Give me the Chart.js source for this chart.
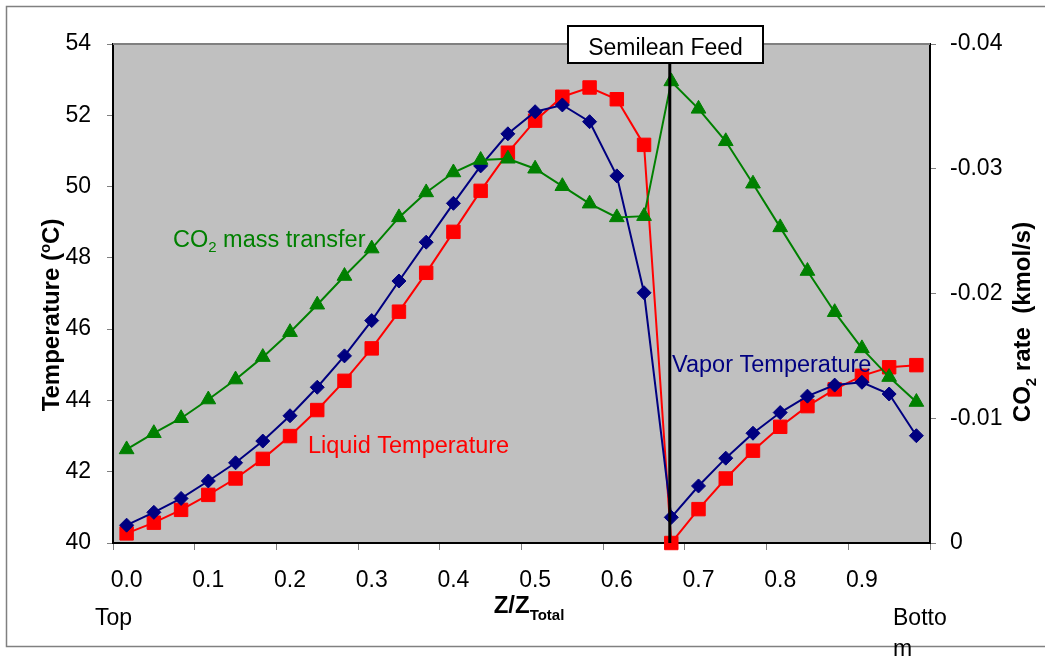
<!DOCTYPE html>
<html>
<head>
<meta charset="utf-8">
<script src="https://cdn.jsdelivr.net/npm/chart.js@4.4.1/dist/chart.umd.min.js"></script>
<style>
  html, body { margin: 0; padding: 0; background: #fff; }
  #wrap { width: 1045px; height: 658px; }
</style>
</head>
<body>
<div id="wrap"><canvas id="chartProfile" width="1045" height="658"></canvas></div>
<script>
// column stages (category axis), one label shown every 3 stages
const stages = [1, 2, 3, 4, 5, 6, 7, 8, 9, 10, 11, 12, 13, 14, 15,
                16, 17, 18, 19, 20, 21, 22, 23, 24, 25, 26, 27, 28, 29, 30];
const zTickLabels = ['0.0', '0.1', '0.2', '0.3', '0.4', '0.5', '0.6', '0.7', '0.8', '0.9'];

// temperatures (oC)
const liquidTemp = [40.27, 40.57, 40.93, 41.35, 41.81, 42.36, 43.00, 43.73, 44.55, 45.46,
                    46.49, 47.58, 48.73, 49.88, 50.95, 51.85, 52.52, 52.78, 52.45, 51.17,
                    40.00, 40.95, 41.81, 42.59, 43.26, 43.84, 44.31, 44.69, 44.93, 44.99];
const vaporTemp = [40.50, 40.86, 41.25, 41.74, 42.25, 42.86, 43.57, 44.37, 45.25, 46.24,
                   47.35, 48.44, 49.53, 50.58, 51.48, 52.10, 52.29, 51.82, 50.30, 47.02,
                   40.72, 41.60, 42.38, 43.08, 43.66, 44.12, 44.43, 44.51, 44.18, 43.01];
// CO2 rate (kmol/s), right axis
const co2Rate = [-0.0075, -0.0088, -0.0100, -0.0115, -0.0131, -0.0149, -0.0169, -0.0191, -0.0214, -0.0236,
                 -0.0261, -0.0281, -0.0297, -0.0307, -0.0308, -0.0300, -0.0286, -0.0272, -0.0261, -0.0262,
                 -0.0370, -0.0348, -0.0322, -0.0288, -0.0253, -0.0218, -0.0185, -0.0156, -0.0133, -0.0113];

const feedStage = 21;

const FONT = "'Liberation Sans', Arial, sans-serif";
const chartProfile = document.getElementById("chartProfile");

// draw a line of text made of runs (for sub/superscripts)
function drawRuns(ctx, runs, x, y, align) {
    let total = 0;
    runs.forEach(r => {
        ctx.font = (r.bold ? 'bold ' : '') + r.size + 'px ' + FONT;
        r.w = ctx.measureText(r.text).width;
        total += r.w;
    });
    let cx = align === 'center' ? x - total / 2 : x;
    ctx.textAlign = 'left';
    ctx.textBaseline = 'alphabetic';
    runs.forEach(r => {
        ctx.font = (r.bold ? 'bold ' : '') + r.size + 'px ' + FONT;
        ctx.fillText(r.text, cx, y + (r.dy || 0));
        cx += r.w;
    });
}

const decor = {
    id: 'decor',
    beforeDraw(chart) {
        const ctx = chart.ctx;
        const a = chart.chartArea;
        ctx.save();
        ctx.strokeStyle = '#808080';
        ctx.lineWidth = 1.5;
        ctx.strokeRect(6.5, 6.5, 1100, 640);
        ctx.fillStyle = '#C0C0C0';
        ctx.fillRect(a.left, a.top, a.right - a.left, a.bottom - a.top);
        ctx.restore();
    },
    beforeDatasetsDraw(chart) {
        const ctx = chart.ctx;
        const a = chart.chartArea;
        ctx.save();
        ctx.strokeStyle = '#808080';
        ctx.lineWidth = 2;
        ctx.beginPath();
        ctx.moveTo(a.left, a.top);
        ctx.lineTo(a.right, a.top);
        ctx.stroke();
        ctx.restore();
    },
    afterDatasetsDraw(chart) {
        const ctx = chart.ctx;
        const a = chart.chartArea;
        const xs = chart.scales.x;
        const fx = xs.getPixelForValue(stages.indexOf(feedStage)) - 1.5;
        ctx.save();
        // semilean feed line + box
        ctx.strokeStyle = '#000';
        ctx.lineWidth = 3;
        ctx.beginPath();
        ctx.moveTo(fx, 62);
        ctx.lineTo(fx, a.bottom);
        ctx.stroke();
        ctx.fillStyle = '#fff';
        ctx.fillRect(568, 26, 195, 37);
        ctx.lineWidth = 2;
        ctx.strokeRect(568, 26, 195, 37);
        ctx.fillStyle = '#000';
        drawRuns(ctx, [{ text: 'Semilean Feed', size: 23 }], 665.5, 55, 'center');

        // series labels
        ctx.fillStyle = '#008000';
        drawRuns(ctx, [{ text: 'CO', size: 23.5 }, { text: '2', size: 15, dy: 5 },
                       { text: ' mass transfer', size: 23.5 }], 173, 247, 'left');
        ctx.fillStyle = '#FF0000';
        drawRuns(ctx, [{ text: 'Liquid Temperature', size: 23.5 }], 308, 453, 'left');
        ctx.fillStyle = '#000080';
        drawRuns(ctx, [{ text: 'Vapor Temperature', size: 23.5 }], 672, 372, 'left');

        // axis titles and end labels
        ctx.fillStyle = '#000';
        drawRuns(ctx, [{ text: 'Z/Z', size: 24, bold: true },
                       { text: 'Total', size: 15, bold: true, dy: 7 }], 529, 613, 'center');
        drawRuns(ctx, [{ text: 'Top', size: 23 }], 95, 625, 'left');
        drawRuns(ctx, [{ text: 'Botto', size: 23 }], 893, 625, 'left');
        drawRuns(ctx, [{ text: 'm', size: 23 }], 893, 656, 'left');

        ctx.save();
        ctx.translate(59, 315);
        ctx.rotate(-Math.PI / 2);
        drawRuns(ctx, [{ text: 'Temperature (', size: 24, bold: true },
                       { text: 'o', size: 15, bold: true, dy: -9 },
                       { text: 'C)', size: 24, bold: true }], 0, 0, 'center');
        ctx.restore();

        ctx.save();
        ctx.translate(1030, 322);
        ctx.rotate(-Math.PI / 2);
        drawRuns(ctx, [{ text: 'CO', size: 24, bold: true },
                       { text: '2', size: 15, bold: true, dy: 6 },
                       { text: ' rate  (kmol/s)', size: 24, bold: true }], 0, 0, 'center');
        ctx.restore();
        ctx.restore();
    }
};

const tickFont = { family: FONT, size: 23 };

new Chart(chartProfile, {
    type: "line",
    data: {
        labels: stages,
        datasets: [
            {
                label: "CO2 mass transfer",
                data: co2Rate,
                yAxisID: 'y2',
                borderColor: '#008000',
                backgroundColor: '#008000',
                borderWidth: 2,
                pointStyle: 'triangle',
                pointRadius: 8.5,
                pointBorderWidth: 1,
                clip: false,
            },
            {
                label: "Vapor Temperature",
                data: vaporTemp,
                yAxisID: 'y',
                borderColor: '#000080',
                backgroundColor: '#000080',
                borderWidth: 2,
                pointStyle: 'rectRot',
                pointRadius: 7,
                pointBorderWidth: 1,
                clip: false,
            },
            {
                label: "Liquid Temperature",
                data: liquidTemp,
                yAxisID: 'y',
                borderColor: '#FF0000',
                backgroundColor: '#FF0000',
                borderWidth: 2,
                pointStyle: 'rect',
                pointRadius: 9.5,
                pointBorderWidth: 1,
                clip: false,
            },
        ],
    },
    options: {
        responsive: false,
        animation: false,
        layout: { padding: { top: 44, left: 0, right: 0, bottom: 0 } },
        plugins: {
            legend: { display: false },
            tooltip: { enabled: false },
        },
        scales: {
            x: {
                type: 'category',
                offset: true,
                grid: {
                    offset: true,
                    drawOnChartArea: false,
                    tickLength: 7,
                    color: (c) => (c.index === undefined || c.index % 3 === 0) ? '#808080' : 'rgba(0,0,0,0)',
                },
                border: { color: '#000', width: 2 },
                ticks: {
                    autoSkip: false,
                    maxRotation: 0,
                    padding: 17,
                    color: '#000',
                    font: tickFont,
                    callback: (v, i) => i % 3 === 0 ? zTickLabels[i / 3] : '',
                },
                afterFit: (s) => { s.height = 115; },
            },
            y: {
                position: 'left',
                min: 40,
                max: 54,
                grid: { drawOnChartArea: false, tickLength: 6, color: '#808080' },
                border: { color: '#000', width: 2 },
                ticks: { stepSize: 2, padding: 16, color: '#000', font: tickFont },
                afterFit: (s) => { s.width = 113; },
            },
            y2: {
                position: 'right',
                min: -0.04,
                max: 0,
                reverse: true,
                grid: { drawOnChartArea: false, tickLength: 6, color: '#808080' },
                border: { color: '#000', width: 2 },
                ticks: { stepSize: 0.01, padding: 14, color: '#000', font: tickFont },
                afterFit: (s) => { s.width = 115; },
            },
        },
    },
    plugins: [decor],
});
</script>
</body>
</html>
